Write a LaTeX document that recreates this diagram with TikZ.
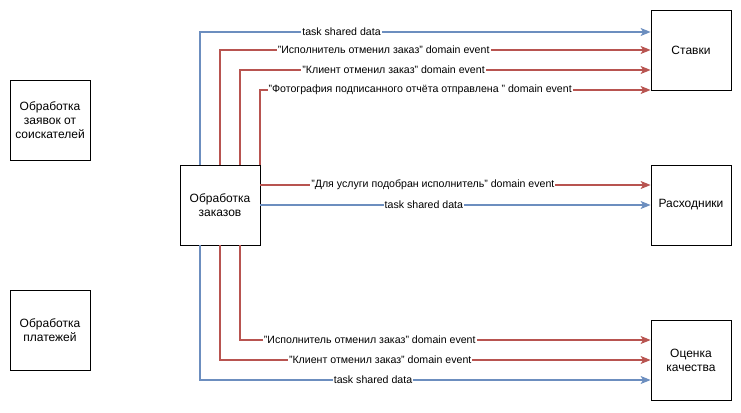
\documentclass[tikz,border=0pt]{standalone}
\usepackage{fontspec}
\setmainfont{Liberation Sans}
\usetikzlibrary{positioning, arrows.meta, calc}
\definecolor{evtred}{HTML}{B85450}
\definecolor{sharedblue}{HTML}{6C8EBF}

\begin{document}
\begin{tikzpicture}[x=1pt, y=-1pt, on grid,
    box/.style={draw, line width=0.8pt, minimum width=80pt, minimum height=80pt, align=center, inner sep=2pt, font=\fontsize{12}{14}\selectfont},
    evt/.style={draw=evtred, line width=1.2pt, -{Stealth[length=10pt, width=8pt, inset=2.5pt]}},
    shared/.style={evt, draw=sharedblue},
    lbl/.style={fill=white, inner sep=1pt, font=\fontsize{10.6}{12}\selectfont}]
    \useasboundingbox (0,0) rectangle (741,412);

    \node[box] (zayavki) at (50,120) {Обработка\\заявок от\\соискателей};
    \node[box] (platezhi) [below=210pt of zayavki] {Обработка\\платежей};
    \node[box] (zakazy) at (220,205) {Обработка\\заказов};
    \node[box] (rashod) [right=471pt of zakazy] {Расходники};
    \node[box] (stavki) [above=155pt of rashod] {Ставки};
    \node[box] (ocenka) [below=155pt of rashod] {Оценка\\качества};

    % to Ставки
    \draw[shared] ($(zakazy.north)+(-20,0)$) |- ($(stavki.west)+(0,-18)$) node[lbl, pos=0.657] {task shared data};
    \draw[evt] (zakazy.north) |- (stavki.west) node[lbl, pos=0.69] {"Исполнитель отменил заказ" domain event};
    \draw[evt] ($(zakazy.north)+(20,0)$) |- ($(stavki.west)+(0,20)$) node[lbl, pos=0.687] {"Клиент отменил заказ" domain event};
    \draw[evt] ($(zakazy.north)+(40,0)$) |- ($(stavki.west)+(0,40)$) node[lbl, pos=0.705] {"Фотография подписанного отчёта отправлена " domain event};

    % to Расходники
    \draw[evt] ($(zakazy.east)+(0,-20)$) -- ($(rashod.west)+(0,-20)$) node[lbl, pos=0.442] {"Для услуги подобран исполнитель" domain event};
    \draw[shared] (zakazy.east) -- (rashod.west) node[lbl, pos=0.419] {task shared data};

    % to Оценка качества
    \draw[evt] ($(zakazy.south)+(20,0)$) |- ($(ocenka.west)+(0,-20)$) node[lbl, pos=0.658] {"Исполнитель отменил заказ" domain event};
    \draw[evt] (zakazy.south) |- (ocenka.west) node[lbl, pos=0.686] {"Клиент отменил заказ" domain event};
    \draw[shared] ($(zakazy.south)+(-20,0)$) |- ($(ocenka.west)+(0,20)$) node[lbl, pos=0.692] {task shared data};
\end{tikzpicture}
\end{document}
